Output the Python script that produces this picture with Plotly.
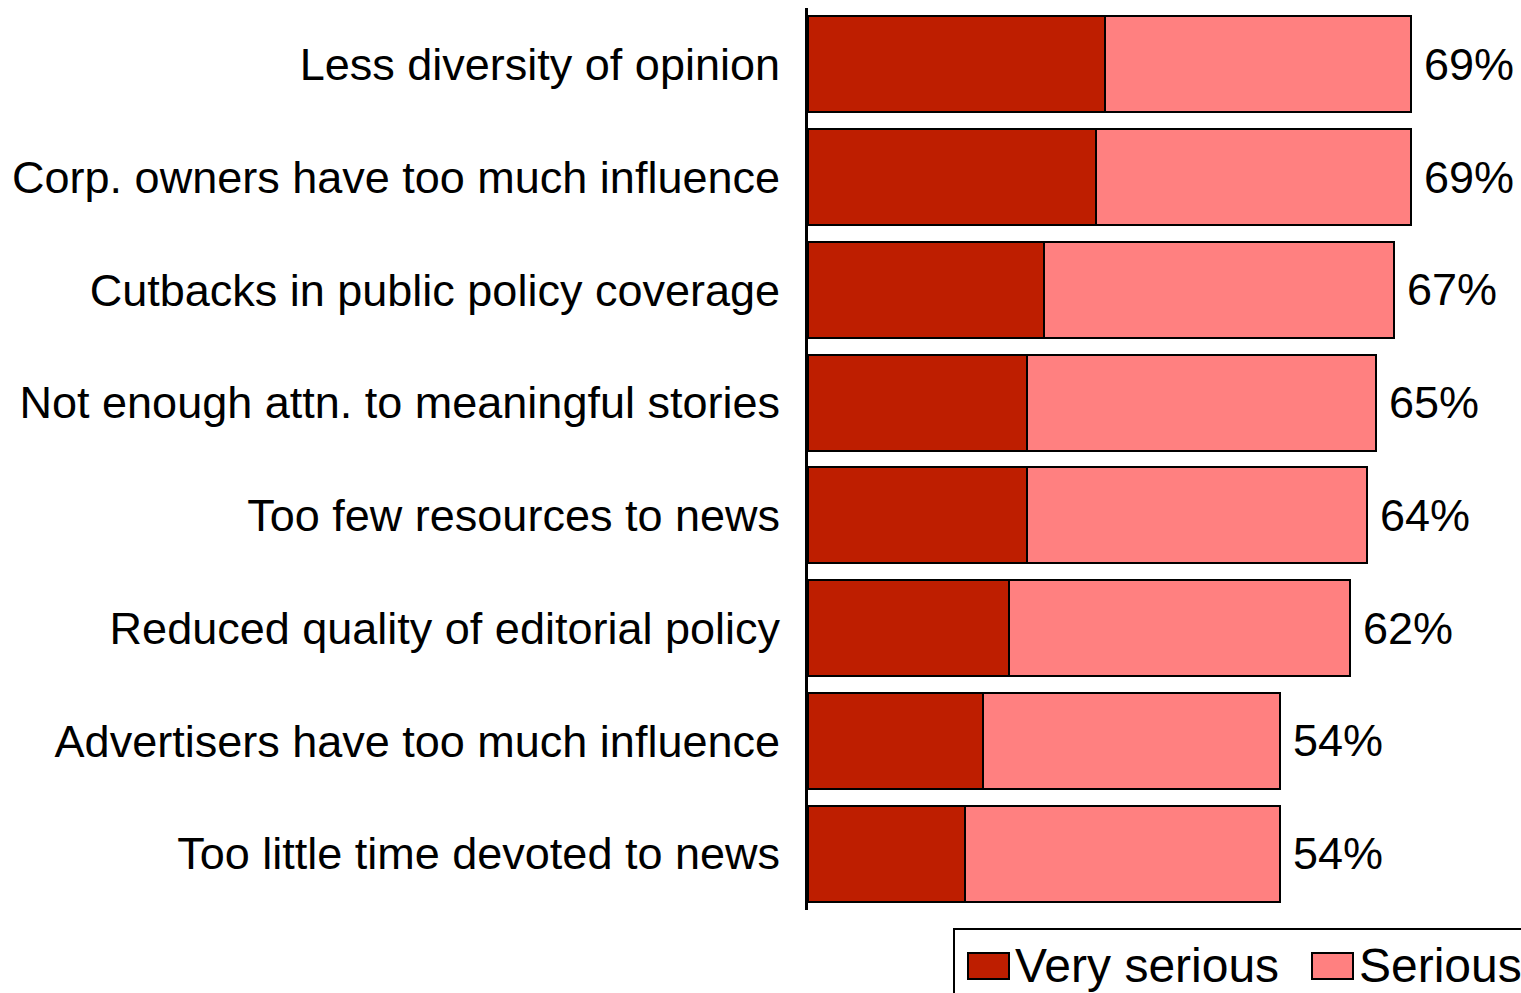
import plotly.graph_objects as go

# Share of respondents rating each problem as serious (percent)
categories = [
    "Less diversity of opinion",
    "Corp. owners have too much influence",
    "Cutbacks in public policy coverage",
    "Not enough attn. to meaningful stories",
    "Too few resources to news",
    "Reduced quality of editorial policy",
    "Advertisers have too much influence",
    "Too little time devoted to news",
]
very_serious = [34, 33, 27, 25, 25, 23, 20, 18]
serious = [35, 36, 40, 40, 39, 39, 34, 36]
totals = [69, 69, 67, 65, 64, 62, 54, 54]

DARK = "#BE1E00"
LIGHT = "#FF8080"
FONT = "Liberation Sans, Arial, sans-serif"
W, H = 1521, 993
ML, MR, MT, MB = 808, 0, 8, 83

fig = go.Figure()
fig.add_trace(go.Bar(
    y=categories, x=very_serious, orientation="h", name="Very serious",
    marker=dict(color=DARK, line=dict(color="black", width=2)),
    width=0.85, showlegend=False,
))
fig.add_trace(go.Bar(
    y=categories, x=serious, orientation="h", name="Serious",
    marker=dict(color=LIGHT, line=dict(color="black", width=2)),
    width=0.85, showlegend=False,
))

for cat, tot in zip(categories, totals):
    fig.add_annotation(
        x=tot, y=cat, xref="x", yref="y", text=f"{tot}%",
        showarrow=False, xanchor="left", yanchor="middle", xshift=11,
        font=dict(size=45, color="black", family=FONT),
    )

# Legend drawn by hand so the swatches can be large
pw, ph = W - ML - MR, H - MT - MB


def px(xp):
    return (xp - ML) / pw


def py(yp):
    return (H - MB - yp) / ph


fig.add_shape(type="rect", xref="paper", yref="paper",
              x0=px(954), x1=px(1530), y0=py(1000), y1=py(929),
              line=dict(color="black", width=2), fillcolor="white")
legend_items = [("Very serious", DARK, 968, 1009), ("Serious", LIGHT, 1312, 1353)]
for name, col, sx0, sx1 in legend_items:
    fig.add_shape(type="rect", xref="paper", yref="paper",
                  x0=px(sx0), x1=px(sx1), y0=py(979), y1=py(953),
                  line=dict(color="black", width=2), fillcolor=col)
    fig.add_annotation(x=px(sx1 + 4), y=py(965), xref="paper", yref="paper",
                       text=name, showarrow=False, xanchor="left", yanchor="middle",
                       font=dict(size=48, color="black", family=FONT))

fig.update_layout(
    width=W, height=H,
    margin=dict(l=ML, r=MR, t=MT, b=MB, pad=0),
    barmode="stack", bargap=0.15,
    plot_bgcolor="white", paper_bgcolor="white",
    font=dict(family=FONT, size=45, color="black"),
)
fig.update_xaxes(range=[0, 81.58], visible=False, showgrid=False, zeroline=False)
fig.update_yaxes(
    categoryorder="array", categoryarray=categories[::-1],
    range=[-0.5, 7.5],
    showline=True, linewidth=3, linecolor="black",
    ticks="", showgrid=False, zeroline=False,
    ticklabelstandoff=16,
    tickfont=dict(size=45, family=FONT, color="black"),
)

fig.write_html("out.html")
